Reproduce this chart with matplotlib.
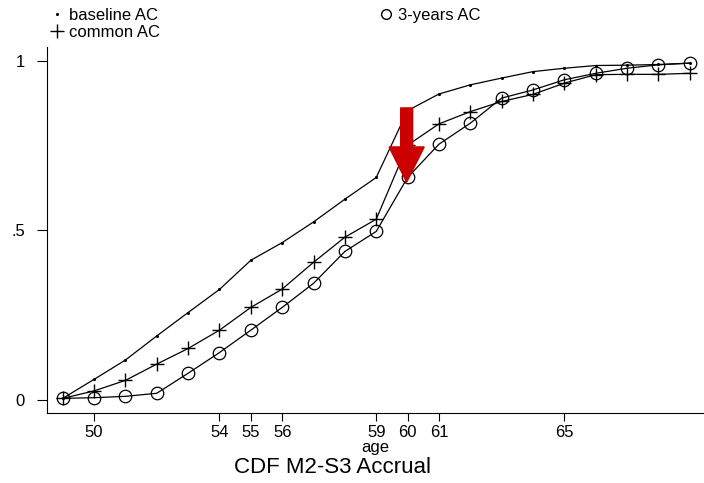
import matplotlib
matplotlib.use("Agg")
import matplotlib.pyplot as plt
from matplotlib.lines import Line2D

plt.rcParams['font.family'] = ['Liberation Sans', 'DejaVu Sans']

ages = list(range(49, 70))
baseline = [0.005, 0.061, 0.118, 0.189, 0.258, 0.326, 0.412, 0.464, 0.525, 0.592,
            0.656, 0.853, 0.902, 0.929, 0.949, 0.968, 0.978, 0.986, 0.987, 0.989, 0.993]
common = [0.005, 0.027, 0.058, 0.106, 0.152, 0.206, 0.273, 0.327, 0.406, 0.480,
          0.533, 0.751, 0.814, 0.850, 0.880, 0.901, 0.934, 0.959, 0.960, 0.960, 0.963]
three_years = [0.005, 0.007, 0.011, 0.020, 0.079, 0.140, 0.206, 0.273, 0.344, 0.438,
               0.497, 0.656, 0.754, 0.816, 0.890, 0.914, 0.944, 0.963, 0.978, 0.988, 0.993]
xticks = [50, 54, 55, 56, 59, 60, 61, 65]
yticks = [0, 0.5, 1]
yticklabels = ['0', '.5', '1']

fig = plt.figure(figsize=(7.04, 4.83), dpi=100)
ax = fig.add_axes([0.0668, 0.145, 0.933, 0.758])

ax.plot(ages, baseline, color='black', lw=0.9, marker='.', markersize=2.5)
ax.plot(ages, common, color='black', lw=0.9, marker='+', markersize=10, markeredgewidth=1)
ax.plot(ages, three_years, color='black', lw=0.9, marker='o', markersize=9,
        markerfacecolor='none', markeredgewidth=0.9)

# red arrow at age 60
ax.arrow(59.97, 0.861, 0, -0.219, width=0.38, head_width=1.12, head_length=0.104,
         length_includes_head=True, color='#cc0000', zorder=5)

ax.set_xlim(48.5, 69.45)
ax.set_ylim(-0.038, 1.041)
ax.set_xticks(xticks)
ax.set_yticks(yticks)
ax.set_yticklabels(yticklabels)
ax.tick_params(axis='x', direction='out', length=6, labelsize=12, pad=3)
ax.tick_params(axis='y', direction='out', length=7, labelsize=12, pad=9)
for s in ['top', 'right']:
    ax.spines[s].set_visible(False)
ax.set_xlabel('age', fontsize=12, labelpad=0)

handles = [Line2D([], [], color='none', marker='.', markersize=2.5, markerfacecolor='black', markeredgecolor='black'),
           Line2D([], [], color='none', marker='+', markersize=10, markeredgecolor='black'),
           Line2D([], [], color='none', marker='o', markersize=7, markerfacecolor='none', markeredgecolor='black')]
fig.legend(handles, ['baseline AC', 'common AC', '3-years AC'], ncol=2, loc='upper left',
           bbox_to_anchor=(0.055, 1.008), frameon=False, fontsize=12, handlelength=0.8,
           handletextpad=0.3, labelspacing=0.12, columnspacing=13.2, borderpad=0.2)

fig.text(0.473, 0.033, 'CDF M2-S3 Accrual', ha='center', va='center', fontsize=16)

fig.savefig('out.png', dpi=100)
